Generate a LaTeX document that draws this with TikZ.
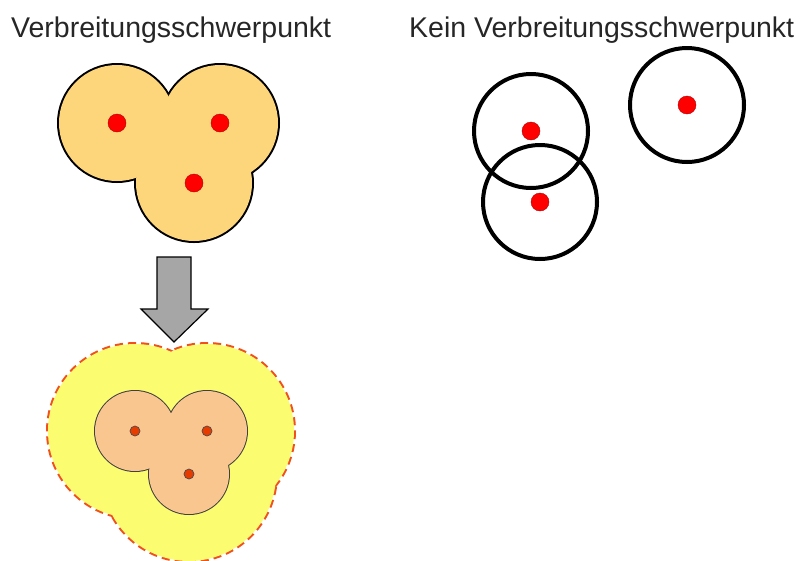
\documentclass[tikz,border=0pt]{standalone}
\usepackage{fontspec}
\setmainfont{Liberation Sans}
\definecolor{blobfill}{RGB}{253,214,124}
\definecolor{bufferfill}{RGB}{252,252,112}
\definecolor{bufferline}{RGB}{240,80,30}
\definecolor{corefill}{RGB}{250,198,144}
\definecolor{coredot}{RGB}{230,60,0}
\definecolor{arrowgray}{RGB}{166,166,166}
\newcommand{\blobR}[0]{58}
\newcommand{\bufR}[0]{87}
\newcommand{\coreR}[0]{40}

\begin{document}
\begin{tikzpicture}[x=1pt, y=-1pt]
  \tikzset{title/.style={anchor=base west, inner sep=0pt, text=black!85,
             font=\fontsize{28.5}{32}\selectfont},
           point/.style={circle, fill=red, draw=red!70!black, line width=0.4,
             minimum size=18, inner sep=0pt},
           smallpoint/.style={circle, fill=coredot, draw=black!70, line width=0.7,
             minimum size=10, inner sep=0pt}}
  \useasboundingbox (0,0) rectangle (802,560);

  \node[title] (t left) at (11,37) {Verbreitungsschwerpunkt};
  \node[title] (t right) at (409,37) {Kein Verbreitungsschwerpunkt};

  % cluster
  \coordinate (a1) at (117,123);
  \coordinate (a2) at (220,123);
  \coordinate (a3) at (194,183);
  \foreach \c in {a1,a2,a3}
    \draw[line width=4] (\c) circle[radius=\blobR];
  \foreach \c in {a1,a2,a3}
    \fill[blobfill] (\c) circle[radius=\blobR];
  \foreach \c in {a1,a2,a3}
    \node[point] (\c dot) at (\c) {};

  % scattered
  \coordinate (b1) at (531,131);
  \coordinate (b2) at (540,202);
  \coordinate (b3) at (687,105);
  \foreach \c in {b1,b2,b3}
    \draw[line width=4] (\c) circle[radius=57];
  \foreach \c in {b1,b2,b3}
    \node[point] (\c dot) at (\c) {};

  % arrow
  \filldraw[fill=arrowgray, draw=black, line width=1.2]
    (157,257) -- (191,257) -- (191,309) -- (208,309) -- (174,342)
    -- (141,309) -- (157,309) -- cycle;

  % buffer
  \coordinate (c1) at (135,431);
  \coordinate (c2) at (207,431);
  \coordinate (c3) at (189,474);
  \foreach \c in {c1,c2,c3}
    \draw[bufferline, line width=4, dash pattern=on 8 off 5] (\c) circle[radius=\bufR];
  \foreach \c in {c1,c2,c3}
    \fill[bufferfill] (\c) circle[radius=\bufR];
  \foreach \c in {c1,c2,c3}
    \draw[black!75, line width=2] (\c) circle[radius=\coreR];
  \foreach \c in {c1,c2,c3}
    \fill[corefill] (\c) circle[radius=\coreR];
  \foreach \c in {c1,c2,c3}
    \node[smallpoint] (\c dot) at (\c) {};
\end{tikzpicture}
\end{document}
